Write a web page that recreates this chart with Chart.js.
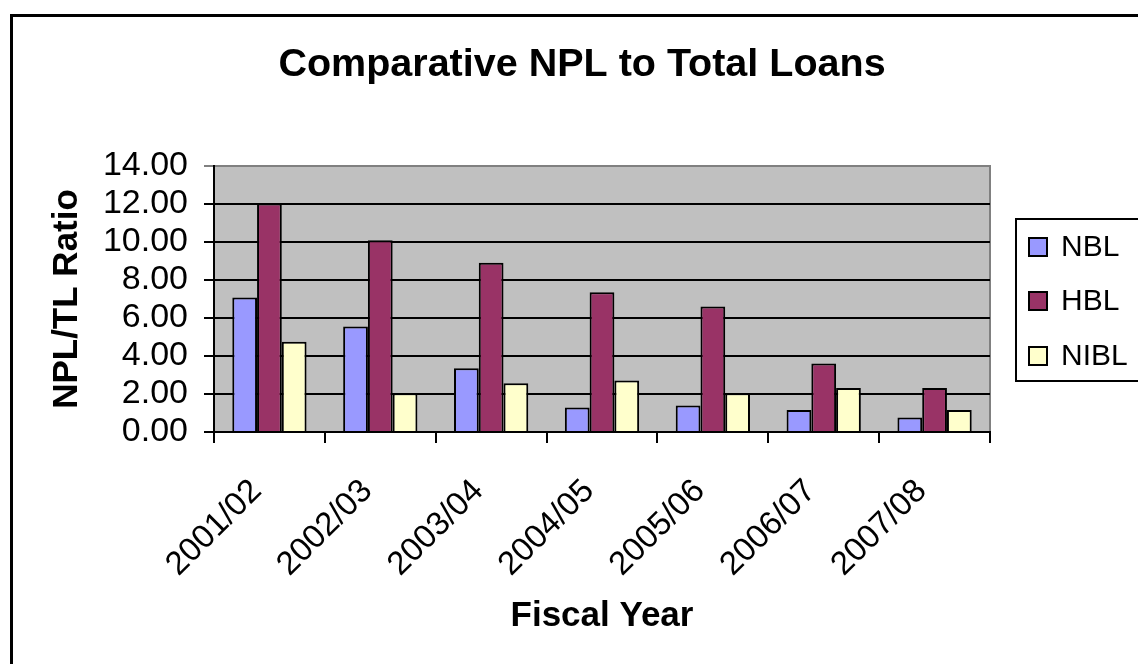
<!DOCTYPE html>
<html>
<head>
<meta charset="utf-8">
<title>Comparative NPL to Total Loans</title>
<script src="https://cdn.jsdelivr.net/npm/chart.js@4/dist/chart.umd.min.js"></script>
<style>
  body { margin: 0; background: #fff; }
  canvas { display: block; }
</style>
</head>
<body>
<canvas id="npl" width="1138" height="664"></canvas>
<script>
var years = ['2001/02', '2002/03', '2003/04', '2004/05', '2005/06', '2006/07', '2007/08'];
var nbl  = [7.08, 5.55, 3.35, 1.29, 1.39, 1.16, 0.76];
var hbl  = [12.02, 10.09, 8.91, 7.36, 6.60, 3.61, 2.31];
var nibl = [4.75, 2.04, 2.57, 2.71, 2.04, 2.31, 1.16];

var FONT = 'Arial, "Liberation Sans", sans-serif';
var TITLE = 'Comparative NPL to Total Loans';

// gray plot background, outer frame, title and the boxed legend on the right
var frame = {
   id: 'frame',
   beforeDraw: function (chart) {
      var ctx = chart.ctx, a = chart.chartArea;
      ctx.save();
      ctx.fillStyle = '#fff';
      ctx.fillRect(0, 0, chart.width, chart.height);
      ctx.fillStyle = '#C0C0C0';
      ctx.fillRect(a.left, a.top, a.right - a.left, a.bottom - a.top);
      ctx.strokeStyle = '#808080';
      ctx.lineWidth = 2;
      ctx.beginPath();
      ctx.moveTo(a.left, a.top);
      ctx.lineTo(a.right, a.top);
      ctx.lineTo(a.right, a.bottom);
      ctx.stroke();
      ctx.restore();
   },
   afterDraw: function (chart) {
      var ctx = chart.ctx;
      ctx.save();
      ctx.strokeStyle = '#000';
      ctx.lineWidth = 3;
      ctx.strokeRect(11.5, 15.5, 1300, 900);

      ctx.fillStyle = '#000';
      ctx.font = 'bold 39.5px ' + FONT;
      ctx.textAlign = 'center';
      ctx.textBaseline = 'alphabetic';
      ctx.fillText(TITLE, 582, 76);

      ctx.lineWidth = 2;
      ctx.strokeRect(1016, 219, 200, 162);
      ctx.font = '30px ' + FONT;
      ctx.textAlign = 'left';
      ctx.textBaseline = 'middle';
      var rows = [247, 301, 356];
      chart.data.datasets.forEach(function (ds, i) {
         ctx.fillStyle = ds.backgroundColor;
         ctx.fillRect(1029, rows[i] - 9, 18, 18);
         ctx.strokeRect(1029, rows[i] - 9, 18, 18);
         ctx.fillStyle = '#000';
         ctx.fillText(ds.label, 1061, rows[i] + 1);
      });
      ctx.restore();
   }
};

var ctx = document.getElementById('npl').getContext('2d');
var chart = new Chart(ctx, {
   type: 'bar',
   data: {
      labels: years,
      datasets: [
         { label: 'NBL',  data: nbl,  backgroundColor: '#9999FF' },
         { label: 'HBL',  data: hbl,  backgroundColor: '#993366' },
         { label: 'NIBL', data: nibl, backgroundColor: '#FFFFCC' }
      ]
   },
   options: {
      responsive: false,
      animation: false,
      layout: { padding: { left: 0, top: 166, right: 148, bottom: 0 } },
      datasets: {
         bar: {
            borderColor: '#000',
            borderWidth: 2,
            categoryPercentage: 0.67,
            barPercentage: 1.0
         }
      },
      plugins: {
         legend: { display: false },
         tooltip: { enabled: false },
         title: { display: false }
      },
      scales: {
         x: {
            afterFit: function (scale) { scale.height = 232; },
            grid: {
               offset: true,
               drawOnChartArea: false,
               drawTicks: true,
               tickLength: 11,
               color: '#000',
               lineWidth: 2
            },
            border: { display: true, color: '#000', width: 2 },
            ticks: {
               color: '#000',
               font: { family: FONT, size: 33 },
               minRotation: 45,
               maxRotation: 45,
               autoSkip: false,
               padding: 16,
               // trailing gap pushes the slanted labels down the diagonal
               callback: function (v) { return this.getLabelForValue(v) + '  '; }
            },
            title: {
               display: true,
               text: 'Fiscal Year',
               color: '#000',
               font: { family: FONT, size: 35, weight: 'bold' },
               padding: { top: 0, bottom: 27 }
            }
         },
         y: {
            min: 0,
            max: 14,
            afterFit: function (scale) { scale.width = 214; },
            grid: {
               color: function (c) { return c.tick && c.tick.value === 14 ? '#808080' : '#000'; },
               lineWidth: 2,
               drawTicks: true,
               tickLength: 10
            },
            border: { display: true, color: '#000', width: 2 },
            ticks: {
               stepSize: 2,
               autoSkip: false,
               color: '#000',
               font: { family: FONT, size: 34 },
               padding: 16,
               callback: function (v) { return v.toFixed(2); }
            },
            title: {
               display: true,
               text: 'NPL/TL Ratio',
               color: '#000',
               font: { family: FONT, size: 35, weight: 'bold' },
               padding: { top: 46, bottom: 0 }
            }
         }
      }
   },
   plugins: [frame]
});
</script>
</body>
</html>
